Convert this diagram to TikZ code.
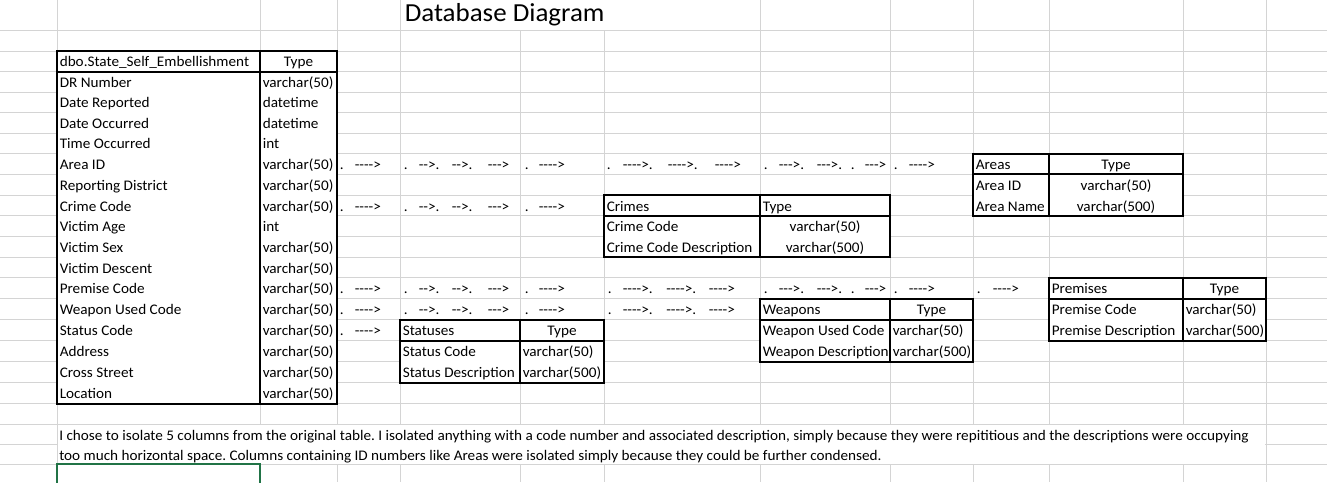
\documentclass[tikz,border=0pt]{standalone}
\usepackage{fontspec}
\setmainfont{Carlito}[Ligatures=TeXOff,FakeStretch=1.037]
\usetikzlibrary{calc}
\frenchspacing
\definecolor{gridgray}{HTML}{D4D4D4}
\definecolor{selgreen}{HTML}{217346}
\newcommand\cellfont{\fontsize{11pt}{13pt}\selectfont}
\newcommand\titlefont{\fontsize{19.5pt}{23pt}\selectfont}
% text in a cell: name, column line on the left, row line below, text
\newcommand\celltxt[4]{\node[lefttext] (#1) at ($(c#2 |- r#3)+(2.5,-4.8)$) {#4};}
% centred text: name, left column line, right column line, row line below, text
\newcommand\celltxtc[5]{\node[midtext] (#1) at ($(c#2 |- r#4)!0.5!(c#3 |- r#4)+(0,-4.8)$) {#5};}
% table frame: left, middle, right column line; top, header, bottom row line
\newcommand\dbframe[6]{%
  \fill[white] (c#1 |- r#4) rectangle (c#3 |- r#6);
  \draw[tblborder] (c#1 |- r#4) rectangle (c#3 |- r#6);
  \draw[tblborder] (c#2 |- r#4) -- (c#2 |- r#6);
  \draw[tblborder] (c#1 |- r#5) -- (c#3 |- r#5);}
% a row of dotted arrow fragments: name prefix, row line below, x/text list
\newcommand\arrowrow[3]{%
  \foreach \ax/\at [count=\n] in {#3} {\node[lefttext] (#1\n) at ($(r#2)+(\ax,-4.8)$) {\at};}}

\begin{document}
\begin{tikzpicture}[x=0.75pt,y=-0.75pt,
  gridline/.style={draw=gridgray,line width=0.75pt},
  tblborder/.style={draw=black,line width=1.5pt},
  lefttext/.style={inner sep=0pt,anchor=base west,font=\cellfont},
  midtext/.style={inner sep=0pt,anchor=base,font=\cellfont}]

\useasboundingbox (0,0) rectangle (1327,482);
\fill[white] (0,0) rectangle (1327,482);

% sheet grid
\foreach \y [count=\k from 0] in {30.5,51,71.6,92.2,112.7,133.2,153.7,174.3,195,215.8,236.5,257.2,277.9,298.6,319.6,340.5,361.5,382.6,403.7,424.2,444.2,464.3}
  {\coordinate (r\k) at (0,\y); \draw[gridline] (0,\y) -- (1327,\y);}
\foreach \x [count=\k from 0] in {57,260,337,400,520,604,760,890,973,1049,1183,1266}
  {\coordinate (c\k) at (\x,0); \draw[gridline] (\x,0) -- (\x,482);}

% cells covered by overflowing title and merged note
\fill[white] (400.6,0) rectangle (759.4,30);
\fill[white] ($(c0 |- r19)+(0.6,0.6)$) rectangle ($(c11 |- r21)+(-0.6,-0.6)$);

\node[inner sep=0pt,anchor=base west,font=\titlefont] (title) at (404.5,21.7) {Database Diagram};

% main table
\dbframe{0}{1}{2}{1}{2}{18}
\celltxt{mainhead}{0}{2}{dbo.State\_Self\_Embellishment}
\celltxtc{maintype}{1}{2}{2}{Type}
\foreach \fname/\ftype [count=\i from 3] in {DR Number/varchar(50),Date Reported/datetime,Date Occurred/datetime,Time Occurred/int,Area ID/varchar(50),Reporting District/varchar(50),Crime Code/varchar(50),Victim Age/int,Victim Sex/varchar(50),Victim Descent/varchar(50),Premise Code/varchar(50),Weapon Used Code/varchar(50),Status Code/varchar(50),Address/varchar(50),Cross Street/varchar(50),Location/varchar(50)}
  {\celltxt{fn\i}{0}{\i}{\fname} \celltxt{ft\i}{1}{\i}{\ftype}}

% Areas
\dbframe{8}{9}{10}{6}{7}{9}
\celltxt{areahead}{8}{7}{Areas} \celltxtc{areatype}{9}{10}{7}{Type}
\celltxt{area1}{8}{8}{Area ID} \celltxtc{area1t}{9}{10}{8}{varchar(50)}
\celltxt{area2}{8}{9}{Area Name} \celltxtc{area2t}{9}{10}{9}{varchar(500)}

% Crimes
\dbframe{5}{6}{7}{8}{9}{11}
\celltxt{crimehead}{5}{9}{Crimes} \celltxt{crimetype}{6}{9}{Type}
\celltxt{crime1}{5}{10}{Crime Code} \celltxtc{crime1t}{6}{7}{10}{varchar(50)}
\celltxt{crime2}{5}{11}{Crime Code Description} \celltxtc{crime2t}{6}{7}{11}{varchar(500)}

% Premises
\dbframe{9}{10}{11}{12}{13}{15}
\celltxt{premhead}{9}{13}{Premises} \celltxtc{premtype}{10}{11}{13}{Type}
\celltxt{prem1}{9}{14}{Premise Code} \celltxt{prem1t}{10}{14}{varchar(50)}
\celltxt{prem2}{9}{15}{Premise Description} \celltxt{prem2t}{10}{15}{varchar(500)}

% Weapons
\dbframe{6}{7}{8}{13}{14}{16}
\celltxt{weaphead}{6}{14}{Weapons} \celltxtc{weaptype}{7}{8}{14}{Type}
\celltxt{weap1}{6}{15}{Weapon Used Code} \celltxt{weap1t}{7}{15}{varchar(50)}
\celltxt{weap2}{6}{16}{Weapon Description} \celltxt{weap2t}{7}{16}{varchar(500)}

% Statuses
\dbframe{3}{4}{5}{14}{15}{17}
\celltxt{stathead}{3}{15}{Statuses} \celltxtc{stattype}{4}{5}{15}{Type}
\celltxt{stat1}{3}{16}{Status Code} \celltxt{stat1t}{4}{16}{varchar(50)}
\celltxt{stat2}{3}{17}{Status Description} \celltxt{stat2t}{4}{17}{varchar(500)}

% arrow fragments typed into the cells
\arrowrow{arA}{7}{339.5/.,354.5/---->,403.5/.,418.5/-->.,451.5/-->.,487.5/--->,524.5/.,538.5/---->,606.5/.,622.5/---->.,667.5/---->.,714.5/---->,763.5/.,778.5/--->.,816.5/--->.,850.5/.,864.5/--->,893.5/.,908.5/---->}
\arrowrow{arC}{9}{339.5/.,354.5/---->,403.5/.,418.5/-->.,451.5/-->.,487.5/--->,524.5/.,538.5/---->}
\arrowrow{arP}{13}{339.5/.,354.5/---->,403.5/.,418.5/-->.,451.5/-->.,487.5/--->,524.5/.,538.5/---->,607.5/.,622.5/---->.,666/---->.,708.5/---->,763.5/.,778.5/--->.,816.5/--->.,850.5/.,864.5/--->,893.5/.,908.5/---->,976.5/.,992.5/---->}
\arrowrow{arW}{14}{339.5/.,354.5/---->,403.5/.,418.5/-->.,451.5/-->.,487.5/--->,524.5/.,538.5/---->,607.5/.,622.5/---->.,666/---->.,708.5/---->}
\arrowrow{arS}{15}{339.5/.,354.5/---->}

% note below the tables
\node[lefttext] (note1) at (59,440) {I chose to isolate 5 columns from the original table. I isolated anything with a code number and associated description, simply because they were repititious and the descriptions were occupying};
\node[lefttext] (note2) at (59,460) {too much horizontal space. Columns containing ID numbers like Areas were isolated simply because they could be further condensed.};

% active cell
\draw[selgreen,line width=1.5pt] (c0 |- r21) rectangle ($(c1 |- r21)+(0,40)$);
\end{tikzpicture}
\end{document}
